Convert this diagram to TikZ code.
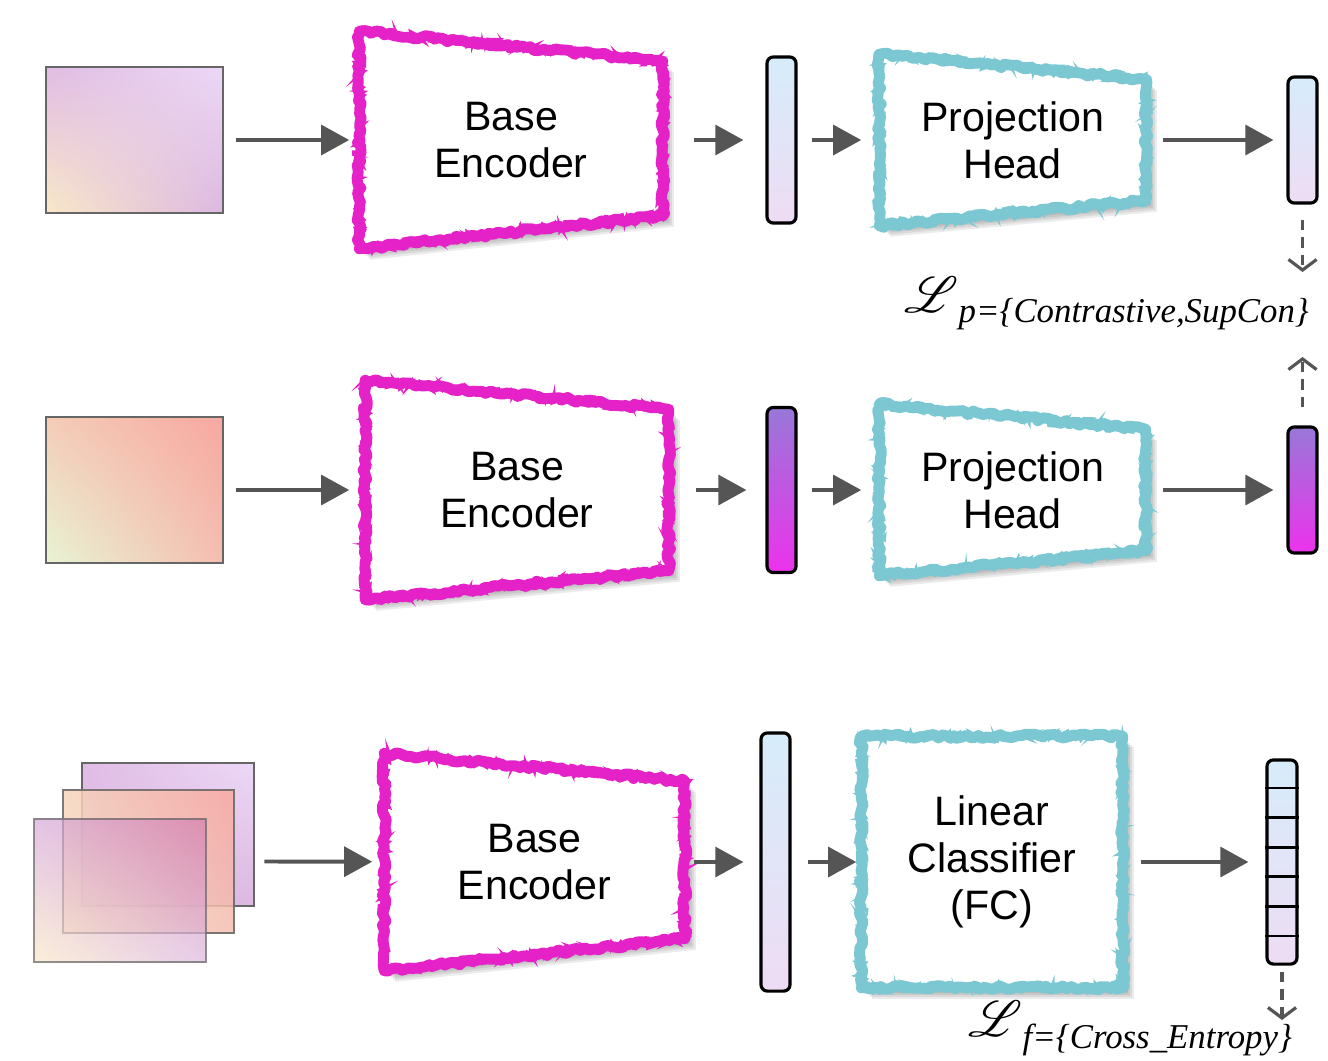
\documentclass[tikz,border=0pt]{standalone}
\usepackage{fontspec}
\usepackage{mathrsfs}
\setmainfont{Liberation Sans}
\newfontfamily\lossfont{Liberation Serif}
\usepackage{tikz}
\usetikzlibrary{positioning, calc, arrows.meta, shadings, backgrounds, decorations.pathmorphing}

\definecolor{encmag}{HTML}{E522C8}
\definecolor{projcyan}{HTML}{7CC8D2}
\definecolor{arrowgray}{HTML}{555555}
\definecolor{framegray}{HTML}{666666}
\definecolor{lilac}{RGB}{224,188,228}
\definecolor{lilacpale}{RGB}{236,216,246}
\definecolor{lilacdeep}{RGB}{220,184,224}
\definecolor{cream}{RGB}{250,232,200}
\definecolor{peach}{RGB}{244,204,184}
\definecolor{salmon}{RGB}{248,168,160}
\definecolor{mint}{RGB}{232,244,212}
\definecolor{rosy}{RGB}{244,190,176}
\definecolor{vecblue}{RGB}{214,236,250}
\definecolor{veclilac}{RGB}{238,220,244}
\definecolor{vecviolet}{RGB}{152,120,216}
\definecolor{vecpink}{RGB}{236,50,236}

\tikzset{
  img/.style={draw=framegray, line width=0.7pt, minimum width=1.77cm, minimum height=1.46cm},
  vec/.style={draw=black, line width=0.9pt, rounded corners=1.8pt, minimum width=0.29cm},
  vecpale/.style={vec, top color=vecblue, bottom color=veclilac},
  vecpurple/.style={vec, top color=vecviolet, bottom color=vecpink},
  block/.style={align=center, font=\fontsize{11.7}{13.4}\selectfont, inner sep=0pt},
  scribble/.style={decorate, decoration={random steps, segment length=1.2pt, amplitude=0.6pt}, line join=round},
  fuzz/.style={decorate, decoration={random steps, segment length=0.8pt, amplitude=1.7pt}, line width=0.7pt},
  flow/.style={draw=arrowgray, line width=1.1pt, -{Triangle[length=8pt,width=8.5pt]}},
  lossarrow/.style={draw=arrowgray, line width=0.9pt, dash pattern=on 3pt off 2pt, -{Straight Barb[length=3pt,width=8pt]}},
  losslabel/.style={inner sep=0pt, anchor=base west, font=\fontsize{14}{14}\selectfont}
}

\begin{document}
\begin{tikzpicture}[x=0.01cm, y=-0.01cm]
  \useasboundingbox (0,0) rectangle (1328,1060);

  % inputs
  \node[img, upper left=lilac, upper right=lilacpale, lower left=cream, lower right=lilacdeep] (img1) at (134.5,140) {};
  \node[img, upper left=peach, upper right=salmon, lower left=mint, lower right=rosy] (img2) at (134.5,490) {};
  \node[img, minimum width=1.72cm, minimum height=1.43cm, upper left=lilac, upper right=lilacpale,
        lower left=lilac, lower right=lilacdeep] (img3a) at (168,834.5) {};
  \node[img, minimum width=1.71cm, minimum height=1.43cm, opacity=0.85, upper left=peach!70!cream, upper right=salmon,
        lower left=cream!90!peach, lower right=rosy] (img3b) at (148.5,861.5) {};
  \node[img, minimum width=1.72cm, minimum height=1.43cm, opacity=0.7, upper left=lilac!90!violet, upper right=lilacdeep!70!purple,
        lower left=cream, lower right=lilacdeep] (img3c) at (120,890.5) {};

  % encoders, heads, classifier
  \node[block, minimum width=3.02cm, minimum height=2.16cm] (enc1) at (511,140) {Base\\Encoder};
  \node[block, minimum width=3.02cm, minimum height=2.18cm] (enc2) at (517,490) {Base\\Encoder};
  \node[block, minimum width=2.99cm, minimum height=2.16cm] (enc3) at (534.5,862) {Base\\Encoder};
  \node[block, minimum width=2.65cm, minimum height=1.70cm] (proj1) at (1012.5,140) {Projection\\Head};
  \node[block, minimum width=2.65cm, minimum height=1.70cm] (proj2) at (1012.5,490) {Projection\\Head};
  \node[block, minimum width=2.60cm, minimum height=2.50cm] (lc) at (992,862) {Linear\\Classifier\\(FC)};

  \begin{scope}[on background layer]
  \foreach \n/\a/\b/\c in {enc1/30/33/encmag, enc2/29/29/encmag, enc3/28/32/encmag,
                           proj1/25/25/projcyan, proj2/25/25/projcyan, lc/0/0/projcyan} {
    % soft shadow
    \foreach \s in {3,5,7,9,11}
      \fill[black, opacity=0.08, transform canvas={shift={(\s,\s)}}]
        (\n.north west) -- ($(\n.north east)+(0,\a)$) -- ($(\n.south east)+(0,-\b)$) -- (\n.south west) -- cycle;
    \fill[white]
      (\n.north west) -- ($(\n.north east)+(0,\a)$) -- ($(\n.south east)+(0,-\b)$) -- (\n.south west) -- cycle;
    \draw[scribble, draw=\c, line width=3.1pt]
      (\n.north west) -- ($(\n.north east)+(0,\a)$) -- ($(\n.south east)+(0,-\b)$) -- (\n.south west) -- cycle;
    \draw[fuzz, draw=\c]
      (\n.north west) -- ($(\n.north east)+(0,\a)$) -- ($(\n.south east)+(0,-\b)$) -- (\n.south west) -- cycle;
  }
  \end{scope}

  % feature vectors
  \node[vecpale, minimum height=1.66cm] (bar1) at (781.5,140) {};
  \node[vecpale, minimum height=1.26cm] (out1) at (1302.5,140) {};
  \node[vecpurple, minimum height=1.65cm] (bar2) at (781.5,490) {};
  \node[vecpurple, minimum height=1.26cm] (out2) at (1302.5,490) {};
  \node[vecpale, minimum height=2.58cm] (bar3) at (775.5,862) {};
  \node[vecpale, minimum width=0.30cm, minimum height=2.04cm] (out3) at (1282,862) {};
  \foreach \k in {1,...,6}
    \draw[line width=0.8pt] ($(out3.north west)!\k/7!(out3.south west)$) -- ($(out3.north east)!\k/7!(out3.south east)$);

  % connectors
  \draw[flow, shorten <=0.12cm, shorten >=0.10cm] (img1) -- (enc1);
  \draw[flow, shorten <=0.31cm, shorten >=0.22cm] (enc1.east) -- (bar1);
  \draw[flow, shorten <=0.14cm, shorten >=0.18cm] (bar1) -- (proj1);
  \draw[flow, shorten <=0.17cm, shorten >=0.13cm] (proj1.east) -- (out1);

  \draw[flow, shorten <=0.12cm, shorten >=0.16cm] (img2) -- (enc2);
  \draw[flow, shorten <=0.27cm, shorten >=0.19cm] (enc2.east) -- (bar2);
  \draw[flow, shorten <=0.14cm, shorten >=0.18cm] (bar2) -- (proj2);
  \draw[flow, shorten <=0.17cm, shorten >=0.13cm] (proj2.east) -- (out2);

  \draw[flow, shorten <=0.09cm, shorten >=0.12cm] (img3b.east -| img3a.east) -- (enc3);
  \draw[flow, shorten <=0.09cm, shorten >=0.16cm] (enc3.east) -- (bar3);
  \draw[flow, shorten <=0.16cm, shorten >=0.05cm] (bar3) -- (lc);
  \draw[flow, shorten <=0.18cm, shorten >=0.17cm] (lc) -- (out3);

  % losses
  \node[losslabel] (loss1) at (904,312)
    {$\mathscr{L}$\raisebox{-3pt}{\fontsize{9.9}{12}\selectfont\lossfont\itshape p=\{Contrastive,SupCon\}}};
  \node[losslabel] (loss2) at (968,1036)
    {$\mathscr{L}$\raisebox{-3.6pt}{\fontsize{9.9}{12}\selectfont\lossfont\itshape f=\{Cross\_Entropy\}}};
  \coordinate (tip1) at (1302.5,272);
  \coordinate (tip2) at (1302.5,357);
  \coordinate (tip3) at (1282,1020);
  \draw[lossarrow] ($(out1.south)+(0,15)$) -- (tip1);
  \draw[lossarrow] ($(out2.north)+(0,-18)$) -- (tip2);
  \draw[lossarrow] ($(out3.south)+(0,6)$) -- (tip3);
\end{tikzpicture}
\end{document}
